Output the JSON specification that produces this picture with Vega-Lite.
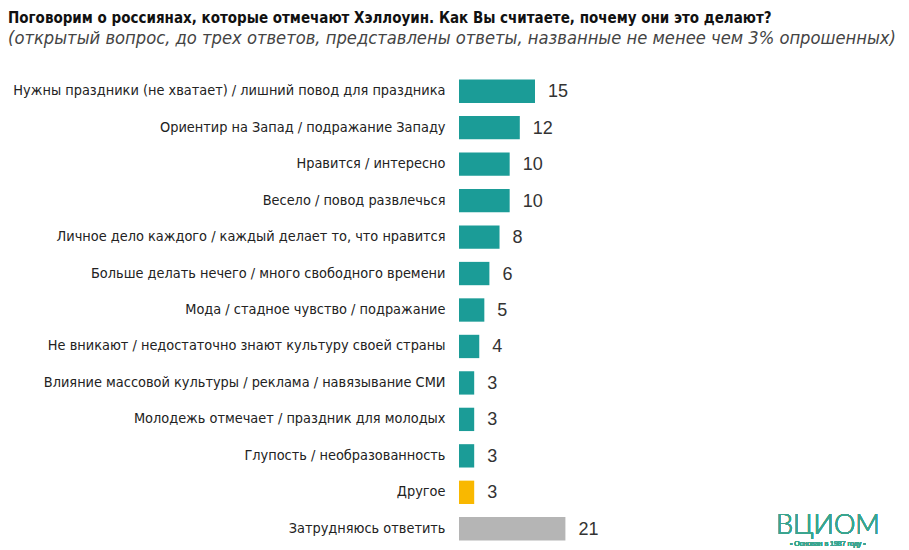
{
  "$schema": "https://vega.github.io/schema/vega-lite/v6.json",
  "autosize": "none",
  "width": 152,
  "height": 474,
  "padding": {"left": 459, "top": 73, "right": 298, "bottom": 3},
  "background": "white",
  "config": {"view": {"stroke": null}},
  "title": {
    "text": "Поговорим о россиянах, которые отмечают Хэллоуин. Как Вы считаете, почему они это делают?",
    "subtitle": "(открытый вопрос, до трех ответов, представлены ответы, названные не менее чем 3% опрошенных)",
    "anchor": "start",
    "frame": "group",
    "dx": -451,
    "offset": 26,
    "font": "DejaVu Sans Condensed, Liberation Sans, sans-serif",
    "fontSize": 15,
    "fontWeight": "bold",
    "color": "#111111",
    "subtitleFont": "DejaVu Sans Condensed, Liberation Sans, sans-serif",
    "subtitleFontSize": 18.2,
    "subtitleFontStyle": "italic",
    "subtitleColor": "#444444",
    "subtitlePadding": 4
  },
  "data": {
    "values": [
      {"answer": "Нужны праздники (не хватает) / лишний повод для праздника", "value": 15, "group": "main"},
      {"answer": "Ориентир на Запад / подражание Западу", "value": 12, "group": "main"},
      {"answer": "Нравится / интересно", "value": 10, "group": "main"},
      {"answer": "Весело / повод развлечься", "value": 10, "group": "main"},
      {"answer": "Личное дело каждого / каждый делает то, что нравится", "value": 8, "group": "main"},
      {"answer": "Больше делать нечего / много свободного времени", "value": 6, "group": "main"},
      {"answer": "Мода / стадное чувство / подражание", "value": 5, "group": "main"},
      {"answer": "Не вникают / недостаточно знают культуру своей страны", "value": 4, "group": "main"},
      {"answer": "Влияние массовой культуры / реклама / навязывание СМИ", "value": 3, "group": "main"},
      {"answer": "Молодежь отмечает / праздник для молодых", "value": 3, "group": "main"},
      {"answer": "Глупость / необразованность", "value": 3, "group": "main"},
      {"answer": "Другое", "value": 3, "group": "other"},
      {"answer": "Затрудняюсь ответить", "value": 21, "group": "dk"}
    ]
  },
  "encoding": {
    "y": {
      "field": "answer",
      "type": "nominal",
      "sort": null,
      "scale": {"paddingInner": 0.36, "paddingOuter": 0.18},
      "axis": {
        "title": null,
        "domain": false,
        "ticks": false,
        "labelPadding": 14,
        "labelLimit": 500,
        "labelFont": "DejaVu Sans Condensed, Liberation Sans, sans-serif",
        "labelFontSize": 14.4,
        "labelColor": "#222222"
      }
    },
    "x": {
      "field": "value",
      "type": "quantitative",
      "scale": {"domain": [0, 30]},
      "axis": null
    }
  },
  "layer": [
    {
      "mark": {"type": "bar"},
      "encoding": {
        "color": {
          "field": "group",
          "type": "nominal",
          "scale": {"domain": ["main", "other", "dk"], "range": ["#1b9c97", "#f9b800", "#b5b5b5"]},
          "legend": null
        }
      }
    },
    {
      "mark": {"type": "text", "align": "left", "baseline": "middle", "dx": 13, "dy": 1, "font": "Liberation Sans, Arial, sans-serif", "fontSize": 18, "color": "#333333"},
      "encoding": {"text": {"field": "value", "type": "quantitative"}}
    },
    {
      "mark": {"type": "text", "align": "center", "baseline": "alphabetic", "dy": 5, "font": "Lato, Liberation Sans, sans-serif", "fontSize": 27, "fontWeight": 300, "color": "#3aa58f"},
      "encoding": {
        "x": {"datum": 72.8},
        "y": {"datum": "Затрудняюсь ответить"},
        "text": {"value": "ВЦИОМ"}
      }
    },
    {
      "mark": {"type": "text", "align": "center", "baseline": "alphabetic", "dy": 17, "font": "Liberation Sans, Arial, sans-serif", "fontSize": 7, "color": "#3aa58f"},
      "encoding": {
        "x": {"datum": 72.8},
        "y": {"datum": "Затрудняюсь ответить"},
        "text": {"value": "• Основан в 1987 году •"}
      }
    }
  ]
}
